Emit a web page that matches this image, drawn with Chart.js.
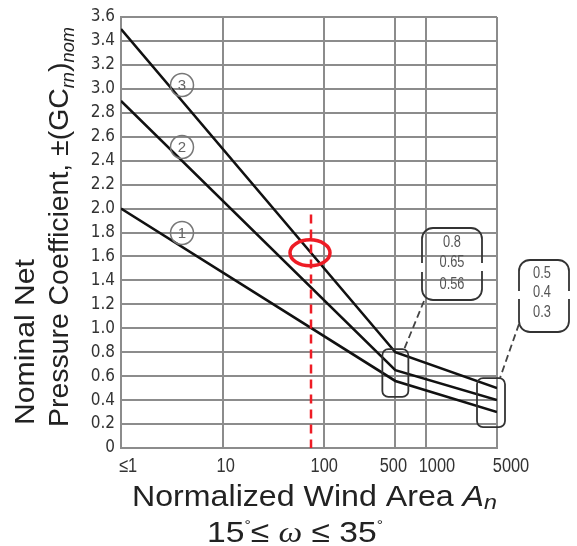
<!DOCTYPE html>
<html><head><meta charset="utf-8">
<style>html,body{margin:0;padding:0;background:#fff;} #wrap{width:577px;height:546px;position:relative;}</style>
<script src="https://cdn.jsdelivr.net/npm/chart.js@4.4.1/dist/chart.umd.min.js"></script>
</head><body><div id="wrap"><canvas id="c" width="577" height="546"></canvas></div>
<script>
// ---- data ----
const windAreas = [1, 500, 5000];
const zone1 = [2.0, 0.56, 0.3];
const zone2 = [2.9, 0.65, 0.4];
const zone3 = [3.5, 0.8, 0.5];
const zoneNames = ['1', '2', '3'];
const xTickValues = [1, 10, 100, 500, 1000, 5000];
const xTickLabels = ['≤1', '10', '100', '500', '1000', '5000'];
const yMin = 0, yMax = 3.6, yStep = 0.2;
const markerArea = 74, markerCoef = 1.63, markerTop = 1.95;

const NARROW = '"Liberation Sans Narrow", "DejaVu Sans Condensed", "Liberation Sans", Arial, sans-serif';
const SANS = '"Liberation Sans", Arial, sans-serif';

function pts(vals) { return windAreas.map((x, i) => ({ x: x, y: vals[i] })); }

function drawRich(ctx, segs, targetW) {
  let total = 0;
  segs.forEach(s => { ctx.font = s.font; s.w = ctx.measureText(s.t).width; total += s.w; });
  const sx = targetW / total;
  ctx.save();
  ctx.scale(sx, 1);
  let x = 0;
  segs.forEach(s => { ctx.font = s.font; ctx.fillText(s.t, x, s.dy || 0); x += s.w; });
  ctx.restore();
}

function roundRectGap(ctx, x0, y0, x1, y1, r, gapL, gapR) {
  ctx.beginPath();
  if (gapR) {
    ctx.moveTo(x1, gapR[1]);
    ctx.lineTo(x1, y1 - r);
  } else {
    ctx.moveTo(x1, y0 + r);
    ctx.lineTo(x1, y1 - r);
  }
  ctx.arcTo(x1, y1, x1 - r, y1, r);
  ctx.lineTo(x0 + r, y1);
  ctx.arcTo(x0, y1, x0, y1 - r, r);
  if (gapL) {
    ctx.lineTo(x0, gapL[1]);
    ctx.moveTo(x0, gapL[0]);
  }
  ctx.lineTo(x0, y0 + r);
  ctx.arcTo(x0, y0, x0 + r, y0, r);
  ctx.lineTo(x1 - r, y0);
  ctx.arcTo(x1, y0, x1, y0 + r, r);
  if (gapR) ctx.lineTo(x1, gapR[0]);
  else ctx.lineTo(x1, y0 + r);
  ctx.stroke();
}

const annot = {
  id: 'annot',
  afterDatasetsDraw(chart) {
    const ctx = chart.ctx;
    const xs = chart.scales.x, ys = chart.scales.y;
    const ca = chart.chartArea;
    ctx.save();

    // x tick labels
    const xOff = [7, 3, 0, -2, 11, 14];
    ctx.fillStyle = '#333';
    ctx.textAlign = 'center';
    ctx.textBaseline = 'alphabetic';
    xTickValues.forEach((v, i) => {
      const px = xs.getPixelForValue(v) + xOff[i];
      ctx.save();
      ctx.translate(px, 472);
      ctx.scale(0.82, 1);
      ctx.font = '20px ' + SANS;
      ctx.fillText(xTickLabels[i], 0, 0);
      ctx.restore();
    });

    // circled zone numbers
    const circ = [[182, 233], [182, 147], [182, 85]];
    ctx.strokeStyle = '#777';
    ctx.lineWidth = 1.5;
    ctx.fillStyle = '#666';
    ctx.textBaseline = 'middle';
    zoneNames.forEach((n, i) => {
      ctx.beginPath();
      ctx.arc(circ[i][0], circ[i][1], 11.5, 0, Math.PI * 2);
      ctx.stroke();
      ctx.font = '15px ' + SANS;
      ctx.fillText(n, circ[i][0], circ[i][1] + 1);
    });

    // boxes around curve breakpoints
    ctx.strokeStyle = '#333';
    ctx.lineWidth = 1.8;
    const p500 = xs.getPixelForValue(windAreas[1]);
    const p5000 = xs.getPixelForValue(windAreas[2]);
    roundRectGap(ctx, p500 - 13, ys.getPixelForValue(zone3[1]) - 3, p500 + 13, ys.getPixelForValue(zone1[1]) + 16, 6);
    roundRectGap(ctx, p5000 - 20, ys.getPixelForValue(zone3[2]) - 10, p5000 + 8, ys.getPixelForValue(zone1[2]) + 15, 6);

    // callout boxes
    ctx.lineWidth = 1.8;
    roundRectGap(ctx, 422, 228, 482, 300, 11, [263, 272], [263, 271]);
    roundRectGap(ctx, 519, 260, 569, 332, 11, [291, 299], [291, 299]);
    ctx.fillStyle = '#555';
    ctx.textAlign = 'center';
    ctx.textBaseline = 'middle';
    const c1 = [zone3[1], zone2[1], zone1[1]];
    const c1y = [243, 263, 285];
    c1.forEach((v, i) => {
      ctx.save(); ctx.translate(452, c1y[i]); ctx.scale(0.8, 1);
      ctx.font = '16px ' + SANS; ctx.fillText(String(v), 0, 0); ctx.restore();
    });
    const c2 = [zone3[2], zone2[2], zone1[2]];
    const c2y = [274, 293, 313];
    c2.forEach((v, i) => {
      ctx.save(); ctx.translate(542, c2y[i]); ctx.scale(0.8, 1);
      ctx.font = '16px ' + SANS; ctx.fillText(String(v), 0, 0); ctx.restore();
    });
    // leader lines
    ctx.setLineDash([7, 4]);
    ctx.strokeStyle = '#444';
    ctx.beginPath(); ctx.moveTo(424, 301); ctx.lineTo(403, 352); ctx.stroke();
    ctx.beginPath(); ctx.moveTo(519, 324); ctx.lineTo(500, 378); ctx.stroke();
    ctx.setLineDash([]);

    // red marker
    const mx = xs.getPixelForValue(markerArea);
    ctx.strokeStyle = '#ee1c25';
    ctx.lineWidth = 2.5;
    ctx.setLineDash([9, 6]);
    ctx.beginPath(); ctx.moveTo(mx, ys.getPixelForValue(markerTop)); ctx.lineTo(mx, ca.bottom); ctx.stroke();
    ctx.setLineDash([]);
    ctx.lineWidth = 3.5;
    ctx.beginPath();
    ctx.ellipse(mx - 1, ys.getPixelForValue(markerCoef), 20, 13, 0, 0, Math.PI * 2);
    ctx.stroke();

    // axis titles
    ctx.fillStyle = '#222';
    ctx.textAlign = 'left';
    ctx.textBaseline = 'alphabetic';
    ctx.save();
    ctx.translate(132, 506);
    drawRich(ctx, [
      { t: 'Normalized Wind Area ', font: '29px ' + SANS },
      { t: 'A', font: 'italic 29px ' + SANS },
      { t: 'n', font: 'italic 21px ' + SANS, dy: 3 }
    ], 365);
    ctx.restore();
    ctx.save();
    ctx.translate(207, 542);
    drawRich(ctx, [
      { t: '15', font: '30px ' + SANS },
      { t: '°', font: '14px ' + SANS, dy: -12 },
      { t: '≤ ', font: '30px ' + SANS },
      { t: 'ω', font: 'italic 30px "Liberation Serif", serif' },
      { t: ' ≤ 35', font: '30px ' + SANS },
      { t: '°', font: '14px ' + SANS, dy: -12 }
    ], 176);
    ctx.restore();
    ctx.save();
    ctx.translate(34, 425);
    ctx.rotate(-Math.PI / 2);
    drawRich(ctx, [{ t: 'Nominal Net', font: '28px ' + SANS }], 166);
    ctx.restore();
    ctx.save();
    ctx.translate(68, 427);
    ctx.rotate(-Math.PI / 2);
    drawRich(ctx, [
      { t: 'Pressure Coefficient, ±(GC', font: '28px ' + SANS },
      { t: 'rn', font: 'italic 18px ' + SANS, dy: 6 },
      { t: ')', font: '28px ' + SANS },
      { t: 'nom', font: 'italic 18px ' + SANS, dy: 6 }
    ], 400);
    ctx.restore();

    ctx.restore();
  }
};

const lineStyle = { borderColor: '#111', borderWidth: 2.6, pointRadius: 0, tension: 0, fill: false };

new Chart(document.getElementById('c'), {
  type: 'line',
  data: {
    datasets: [
      Object.assign({ label: 'Zone 1', data: pts(zone1) }, lineStyle),
      Object.assign({ label: 'Zone 2', data: pts(zone2) }, lineStyle),
      Object.assign({ label: 'Zone 3', data: pts(zone3) }, lineStyle)
    ]
  },
  options: {
    responsive: false,
    animation: false,
    devicePixelRatio: 1,
    layout: { padding: { left: 0, top: 17, right: 80, bottom: 0 } },
    plugins: { legend: { display: false }, tooltip: { enabled: false } },
    scales: {
      x: {
        type: 'logarithmic', min: windAreas[0], max: windAreas[2],
        afterBuildTicks: s => { s.ticks = xTickValues.map(v => ({ value: v })); },
        afterFit: s => { s.height = 98; },
        ticks: { display: false, autoSkip: false },
        grid: { color: '#8c8c8c', lineWidth: 2, drawTicks: false },
        border: { display: true, color: '#8c8c8c', width: 2 }
      },
      y: {
        min: yMin, max: yMax,
        afterBuildTicks: s => {
          const t = [];
          for (let i = 0; i <= Math.round((yMax - yMin) / yStep); i++) t.push({ value: +(yMin + i * yStep).toFixed(1) });
          s.ticks = t;
        },
        afterFit: s => { s.width = 121; },
        ticks: {
          autoSkip: false,
          padding: 6, color: '#333',
          font: { family: NARROW, size: 17 },
          callback: v => v === 0 ? '0' : Number(v).toFixed(1)
        },
        grid: { color: '#8c8c8c', lineWidth: 2, drawTicks: false },
        border: { display: true, color: '#8c8c8c', width: 2 }
      }
    }
  },
  plugins: [annot]
});
</script></body></html>
